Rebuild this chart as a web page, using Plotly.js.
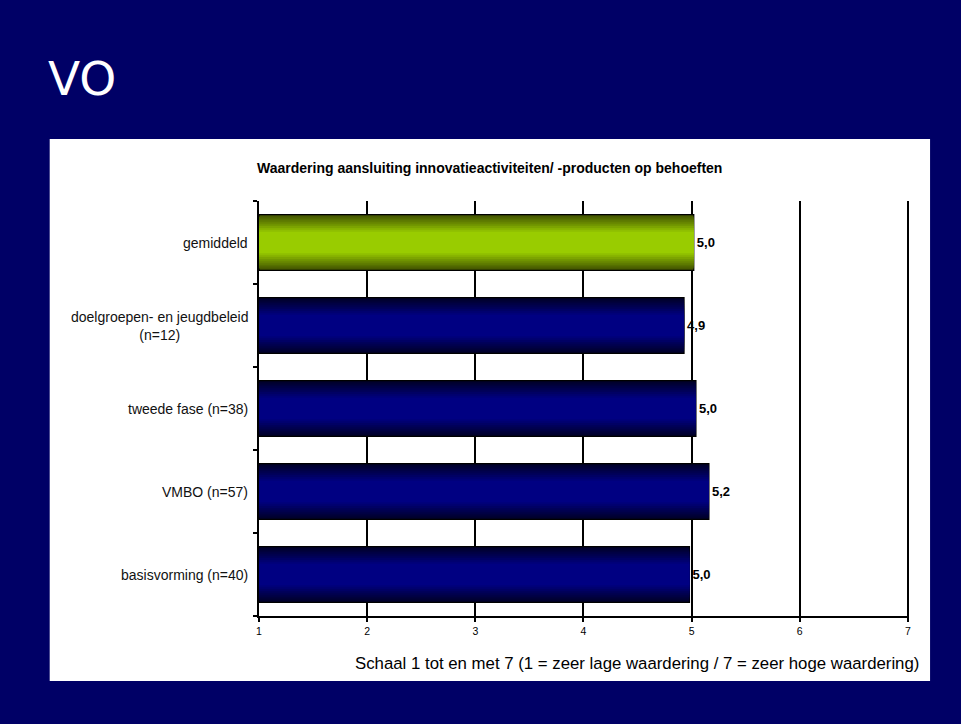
<!DOCTYPE html>
<html>
<head>
<meta charset="utf-8">
<script src="https://cdn.plot.ly/plotly-3.0.1.min.js"></script>
<style>html,body{margin:0;padding:0;background:#000066;}#chart{width:961px;height:724px;}</style>
</head>
<body>
<div id="chart"></div>
<script>
// ---- data ----
const categories = ['gemiddeld', 'doelgroepen- en jeugdbeleid<br>(n=12)', 'tweede fase (n=38)', 'VMBO (n=57)', 'basisvorming (n=40)'];
const values = [5.02, 4.93, 5.04, 5.16, 4.98];
const valueLabels = ['5,0', '4,9', '5,0', '5,2', '5,0'];
const xTickValues = [1, 2, 3, 4, 5, 6, 7];
const xTickLabels = ['1', '2', '3', '4', '5', '6', '7'];
const scaleStart = 1;
const highlighted = ['gemiddeld'];
const chartTitle = 'Waardering aansluiting innovatieactiviteiten/ -producten op behoeften';
const axisNote = 'Schaal 1 tot en met 7 (1 = zeer lage waardering / 7 = zeer hoge waardering)';
const slideTitle = 'VO';

// ---- styling helpers ----
function mix(a, b, t) {
  const c = a.map((v, i) => Math.round(v + (b[i] - v) * t));
  return 'rgb(' + c.join(',') + ')';
}
const greenEdge = [66, 84, 0], greenMid = [153, 204, 0];
const navyEdge = [0, 0, 40], navyMid = [0, 0, 130];
const steps = 10;
const fullWidth = 0.67;
const FONT = 'Arial, Liberation Sans, sans-serif';
const traces = [];
for (let k = 0; k < steps; k++) {
  const t = Math.min(1, k / (steps - 1));
  const w = fullWidth * (1 - k * 0.068);
  const colors = categories.map(c => highlighted.includes(c) ? mix(greenEdge, greenMid, t) : mix(navyEdge, navyMid, t));
  const tr = {
    type: 'bar', orientation: 'h',
    y: categories.map((c, i) => i),
    x: values.map(v => v - scaleStart),
    base: scaleStart,
    width: w,
    marker: { color: colors, line: { color: '#000', width: k === 0 ? 1.2 : 0 } },
    hoverinfo: 'skip',
    showlegend: false
  };
  if (k === 0) {
    tr.text = valueLabels;
    tr.textposition = 'outside';
    tr.textfont = { family: FONT, size: 13, color: '#000', weight: 'bold' };
    tr.cliponaxis = false;
  } else {
    tr.textposition = 'none';
  }
  traces.push(tr);
}

const annotations = categories.map((c, i) => ({
  xref: 'paper', yref: 'y', x: 0, y: i, xanchor: 'right', yanchor: 'middle',
  xshift: -9, text: c, showarrow: false, align: 'center',
  font: { family: FONT, size: 14, color: '#111' }
}));
annotations.push({
  xref: 'paper', yref: 'paper', x: 0.354, y: 1.0795, xanchor: 'center', yanchor: 'middle',
  text: '<b>' + chartTitle + '</b>', showarrow: false,
  font: { family: FONT, size: 14, color: '#000' }
});
annotations.push({
  xref: 'paper', yref: 'paper', x: 1.0185, y: -0.1133, xanchor: 'right', yanchor: 'middle',
  text: axisNote, showarrow: false,
  font: { family: FONT, size: 16.8, color: '#000' }
});

const layout = {
  width: 961, height: 724,
  paper_bgcolor: '#000066', plot_bgcolor: 'rgba(0,0,0,0)',
  margin: { l: 259, r: 52, t: 201, b: 108 },
  barmode: 'overlay',
  title: {
    text: slideTitle, xref: 'container', yref: 'container',
    x: 48 / 961, xanchor: 'left', y: 1 - 79 / 724, yanchor: 'middle',
    font: { family: 'DejaVu Sans, Verdana, sans-serif', size: 47, color: '#fff' }
  },
  xaxis: {
    range: [1, 7.01], tickvals: xTickValues, ticktext: xTickLabels,
    showgrid: true, gridcolor: '#000', gridwidth: 2,
    zeroline: false, showline: true, linecolor: '#000', linewidth: 2,
    ticks: 'outside', ticklen: 4, tickcolor: '#000', tickwidth: 2,
    tickfont: { family: FONT, size: 10.5, color: '#000' },
    fixedrange: true
  },
  yaxis: {
    type: 'linear', range: [categories.length - 0.5, -0.5],
    tickvals: categories.map((c, i) => i - 0.5).concat([categories.length - 0.5]),
    showticklabels: false, showgrid: false, zeroline: false,
    showline: true, linecolor: '#000', linewidth: 2,
    ticks: 'outside', ticklen: 4, tickcolor: '#000', tickwidth: 2,
    fixedrange: true
  },
  shapes: [{
    type: 'rect', xref: 'paper', yref: 'paper', layer: 'below',
    x0: -0.322, x1: 1.0324, y0: -0.1566, y1: 1.1494,
    fillcolor: '#ffffff', line: { width: 0 }
  }],
  annotations: annotations
};

Plotly.newPlot('chart', traces, layout, { staticPlot: true, displayModeBar: false });
</script>
</body>
</html>
